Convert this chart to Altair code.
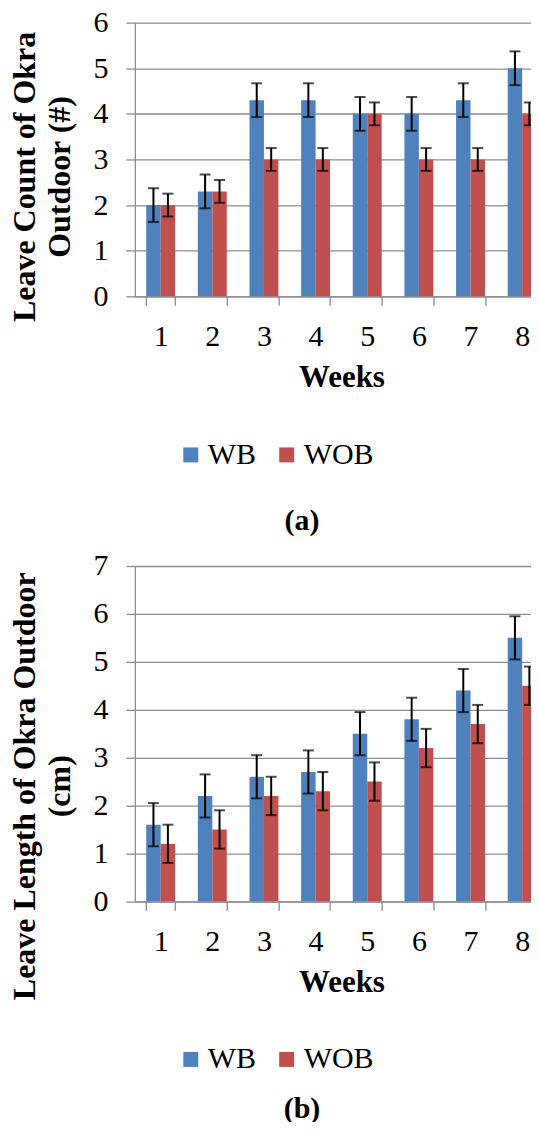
import altair as alt
import pandas as pd

weeks = [1, 2, 3, 4, 5, 6, 7, 8]
series = ["WB", "WOB"]
colors = ["#4F81BD", "#C0504D"]

# (a) Leave count
count_wb = [2.0, 2.3, 4.3, 4.3, 4.0, 4.0, 4.3, 5.0]
count_wob = [2.0, 2.3, 3.0, 3.0, 4.0, 3.0, 3.0, 4.0]
count_wb_err = [0.37, 0.37, 0.37, 0.37, 0.37, 0.37, 0.37, 0.37]
count_wob_err = [0.25, 0.25, 0.25, 0.25, 0.25, 0.25, 0.25, 0.25]

# (b) Leave length
length_wb = [1.6, 2.2, 2.6, 2.7, 3.5, 3.8, 4.4, 5.5]
length_wob = [1.2, 1.5, 2.2, 2.3, 2.5, 3.2, 3.7, 4.5]
length_wb_err = [0.45, 0.45, 0.45, 0.45, 0.45, 0.45, 0.45, 0.45]
length_wob_err = [0.4, 0.4, 0.4, 0.4, 0.4, 0.4, 0.4, 0.4]

FONT = "Liberation Serif"
GRID = "#8c8c8c"
PLOT_W = 413.6


def panel(wb, wob, wb_err, wob_err, ymax, height, ytitle, title_y, legend_y, label, label_offset):
    rows = []
    for i, w in enumerate(weeks):
        rows.append({"week": str(w), "series": "WB", "value": wb[i], "err": wb_err[i]})
        rows.append({"week": str(w), "series": "WOB", "value": wob[i], "err": wob_err[i]})
    df = pd.DataFrame(rows)
    base = alt.Chart(df).transform_calculate(
        lo="datum.value - datum.err", hi="datum.value + datum.err"
    )
    xaxis = alt.Axis(
        title="Weeks", labelAngle=0, tickBand="extent", grid=False,
        domainColor=GRID, tickColor=GRID, tickSize=9, tickWidth=1.3, domainWidth=1.3,
        labelFont=FONT, labelFontSize=30, labelColor="black", labelPadding=16,
        titleFont=FONT, titleFontSize=31, titleFontWeight="bold", titleColor="black",
        titleBaseline="top", titleY=66.6,
    )
    x = alt.X("week:N", sort=[str(w) for w in weeks],
              scale=alt.Scale(paddingInner=0.44, paddingOuter=0.22), axis=xaxis)
    xo = alt.XOffset("series:N", sort=series, scale=alt.Scale(paddingInner=0, paddingOuter=0))
    yaxis = alt.Axis(
        title=ytitle, values=list(range(ymax + 1)), grid=True,
        gridColor=GRID, gridWidth=1.3, domainColor=GRID, domainWidth=1.3,
        tickColor=GRID, tickSize=9, tickWidth=1.3,
        labelFont=FONT, labelFontSize=30, labelColor="black", labelPadding=18,
        titleFont=FONT, titleFontSize=32, titleFontWeight="bold", titleColor="black",
        titleAngle=270, titleAlign="center", titleBaseline="bottom",
        titleX=-93.3, titleY=title_y, titleLineHeight=35,
    )
    yscale = alt.Scale(domain=[0, ymax], nice=False)
    bars = base.mark_bar().encode(
        x=x, xOffset=xo,
        y=alt.Y("value:Q", scale=yscale, axis=yaxis),
        color=alt.Color(
            "series:N", sort=series,
            scale=alt.Scale(domain=series, range=colors),
            legend=alt.Legend(
                title=None, orient="none", legendX=41, legendY=legend_y,
                direction="horizontal", symbolType="square", symbolSize=225,
                symbolStrokeWidth=0, labelFont=FONT, labelFontSize=30,
                labelColor="black", labelOffset=2, columnPadding=15, padding=0,
            ),
        ),
    )
    rules = base.mark_rule(color="black", strokeWidth=2).encode(
        x=x, xOffset=xo,
        y=alt.Y("lo:Q", scale=yscale, axis=yaxis), y2="hi:Q",
    )
    caps_hi = base.mark_tick(color="black", size=11, thickness=2).encode(
        x=x, xOffset=xo, y=alt.Y("hi:Q", scale=yscale, axis=yaxis),
    )
    caps_lo = base.mark_tick(color="black", size=11, thickness=2).encode(
        x=x, xOffset=xo, y=alt.Y("lo:Q", scale=yscale, axis=yaxis),
    )
    return alt.layer(bars, rules, caps_hi, caps_lo).properties(
        width=PLOT_W, height=height,
        title=alt.TitleParams(
            text=label, orient="bottom", anchor="middle", frame="group",
            font=FONT, fontSize=30, fontWeight="bold", color="black",
            dx=-39.5, offset=label_offset,
        ),
    )


p1 = panel(count_wb, count_wob, count_wb_err, count_wob_err, 6, 274,
           ["Leave Count of Okra", "Outdoor (#)"], 154, 417.8, "(a)", 36)
p2 = panel(length_wb, length_wob, length_wb_err, length_wob_err, 7, 335.7,
           ["Leave Length of Okra Outdoor", "(cm)"], 220, 479, "(b)", 20)

chart = alt.vconcat(p1, p2, spacing=15).resolve_scale(
    color="independent", x="independent", y="independent", xOffset="independent"
).configure_view(stroke=None).properties(
    padding={"left": 0, "top": -1, "right": -17, "bottom": -3},
    background="white",
)

chart.save("out.html", embed_options={"renderer": "svg", "actions": False})
